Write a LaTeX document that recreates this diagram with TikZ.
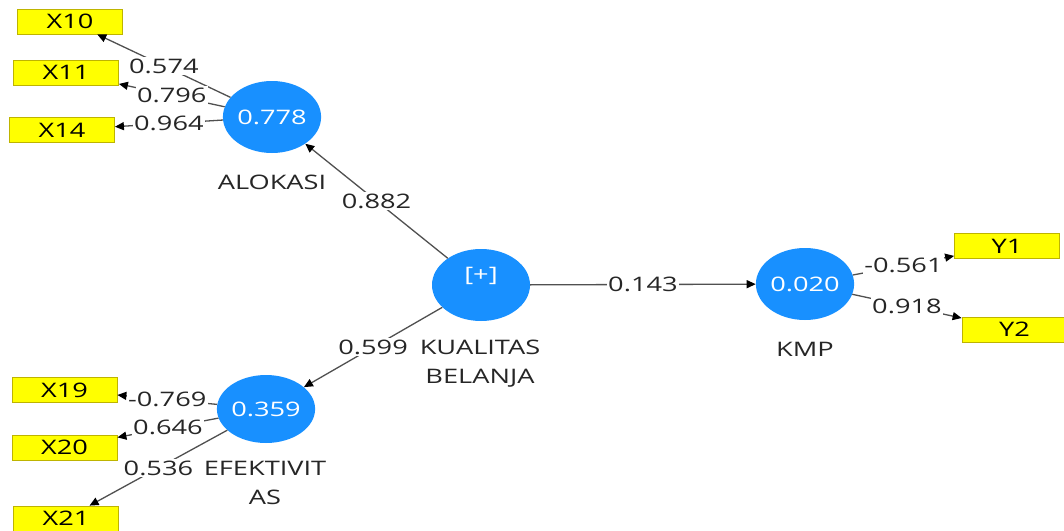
\documentclass[tikz,border=0pt]{standalone}
\usepackage{fontspec}
\setmainfont[FakeStretch=1.36]{Open Sans}
\usetikzlibrary{shapes.geometric,arrows.meta}
\definecolor{lvblue}{RGB}{24,144,255}
\definecolor{mvyellow}{RGB}{255,255,0}
\definecolor{mvborder}{RGB}{190,180,0}
\definecolor{edgegray}{RGB}{80,80,80}
\tikzset{
  lv/.style={ellipse,fill=lvblue,draw=none,minimum width=98pt,minimum height=72pt,inner sep=0pt,text=white,font=\fontsize{20}{22}\selectfont},
  mv/.style={rectangle,fill=mvyellow,draw=mvborder,line width=0.8pt,minimum width=105pt,minimum height=25pt,inner sep=0pt,font=\fontsize{20}{22}\selectfont},
  lvname/.style={align=center,inner sep=0pt,font=\fontsize{20}{29}\selectfont,text=black!85},
  path/.style={draw=edgegray,line width=1.3pt,-{Triangle[black,length=9pt,width=8pt]}},
  coef/.style={fill=white,inner sep=1.5pt,font=\fontsize{20}{22}\selectfont,text=black!85}
}
\begin{document}
\begin{tikzpicture}[x=1pt,y=-1pt]
\useasboundingbox[fill=white] (0,0) rectangle (1064,530);
% latent variables
\node[lv] (alo) at (272,117) {\raisebox{-4pt}{0.778}};
\node[lv] (kb) at (481,285) {\raisebox{22pt}{[+]}};
\node[lv] (kmp) at (805,284) {\raisebox{-4pt}{0.020}};
\node[lv,minimum height=68pt] (ef) at (266,409) {\raisebox{-2pt}{0.359}};
% names
\node[lvname] (aloname) at (272,182) {ALOKASI};
\node[lvname] (kbname) at (480,364) {KUALITAS\\BELANJA};
\node[lvname] (kmpname) at (805,349) {KMP};
\node[lvname] (efname) at (265,483) {EFEKTIVIT\\AS};
% indicators
\node[mv] (x10) at (70,21.5) {X10};
\node[mv] (x11) at (66,72.5) {X11};
\node[mv] (x14) at (62,130) {X14};
\node[mv] (x19) at (64.5,390) {X19};
\node[mv] (x20) at (64.5,447.5) {X20};
\node[mv] (x21) at (66,518.5) {X21};
\node[mv] (y1) at (1007,246) {Y1};
\node[mv] (y2) at (1014.5,329.5) {Y2};
% structural paths
\draw[path] (kb) -- node[coef] {0.882} (alo);
\draw[path] (kb) -- node[coef] {0.143} (kmp);
\draw[path] (kb) -- node[coef] {0.599} (ef);
% loadings
\draw[path] (alo) -- node[coef] {0.574} (x10);
\draw[path] (alo) -- node[coef] {0.796} (x11);
\draw[path] (alo) -- node[coef] {0.964} (x14);
\draw[path] (ef) -- node[coef] {-0.769} (x19);
\draw[path] (ef) -- node[coef] {0.646} (x20);
\draw[path] (ef) -- node[coef] {0.536} (x21);
\draw[path] (kmp) -- node[coef] {-0.561} (y1);
\draw[path] (kmp) -- node[coef] {0.918} (y2);
\end{tikzpicture}
\end{document}
